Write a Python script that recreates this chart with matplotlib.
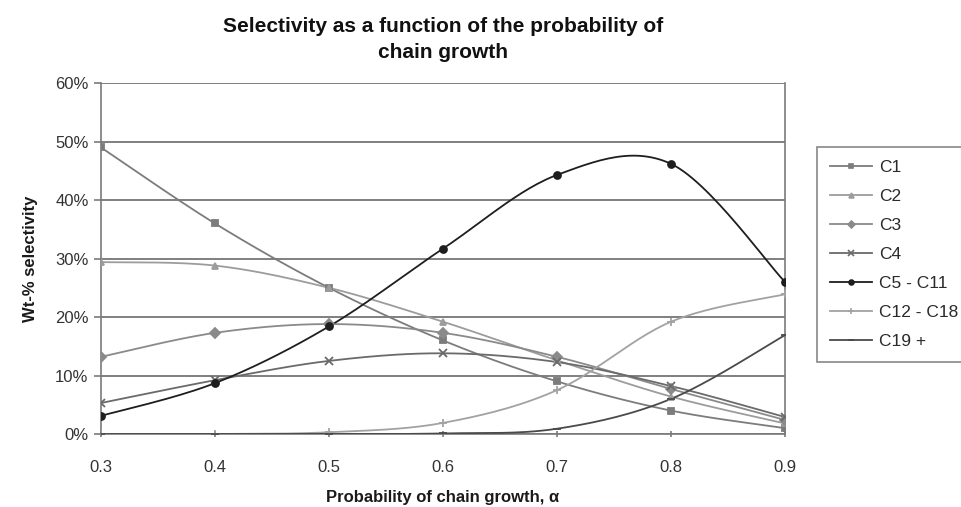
import numpy as np
import matplotlib
matplotlib.use("Agg")
import matplotlib.pyplot as plt
from matplotlib.ticker import FuncFormatter

plt.rcParams['font.family'] = ['Liberation Sans', 'DejaVu Sans']

# data (wt-% selectivity)
alpha = [0.3, 0.4, 0.5, 0.6, 0.7, 0.8, 0.9]
c1 = [49.0, 36.0, 25.0, 16.0, 9.0, 4.0, 1.0]
c2 = [29.4, 28.8, 25.0, 19.2, 12.6, 6.4, 1.8]
c3 = [13.2, 17.3, 18.8, 17.3, 13.2, 7.7, 2.4]
c4 = [5.3, 9.2, 12.5, 13.8, 12.3, 8.2, 2.9]
c5_c11 = [3.1, 8.7, 18.4, 31.7, 44.3, 46.2, 26.0]
c12_c18 = [0.0, 0.0, 0.3, 1.9, 7.5, 19.2, 23.9]
c19_plus = [0.0, 0.0, 0.0, 0.1, 0.9, 6.0, 16.9]

series = [
    ("C1", c1, "s", "#7c7c7c"),
    ("C2", c2, "^", "#9c9c9c"),
    ("C3", c3, "D", "#8a8a8a"),
    ("C4", c4, "x", "#6a6a6a"),
    ("C5 - C11", c5_c11, "o", "#1e1e1e"),
    ("C12 - C18", c12_c18, "+", "#a2a2a2"),
    ("C19 +", c19_plus, "_", "#4a4a4a"),
]


def smooth(x, y, n=30):
    # excel-style smoothed line (catmull-rom bezier)
    x = np.asarray(x, float)
    y = np.asarray(y, float)
    P = np.column_stack([x, y])
    Pe = np.vstack([P[0], P, P[-1]])
    out = []
    t = np.linspace(0, 1, n)[:, None]
    for i in range(len(P) - 1):
        p0, p1, p2, p3 = Pe[i], Pe[i + 1], Pe[i + 2], Pe[i + 3]
        b1 = p1 + (p2 - p0) / 6
        b2 = p2 - (p3 - p1) / 6
        seg = ((1 - t) ** 3) * p1 + 3 * ((1 - t) ** 2) * t * b1 + 3 * (1 - t) * t ** 2 * b2 + t ** 3 * p2
        out.append(seg if i == 0 else seg[1:])
    out = np.vstack(out)
    return out[:, 0], out[:, 1]


fig = plt.figure(figsize=(9.62, 5.07), dpi=100)
ax = fig.add_axes([0.105, 0.144, 0.711, 0.692])

for name, vals, mk, col in series:
    sx, sy = smooth(alpha, vals)
    ax.plot(sx, sy, color=col, lw=1.3, zorder=3)
    ms = 6 if mk in ("+", "_", "x") else 5
    ax.plot(alpha, vals, ls="none", marker=mk, color=col, ms=ms, mew=1.3, zorder=4)
    ax.plot([], [], color=col, lw=1.3, marker=mk, ms=ms - 1.5, mew=1.2, label=name)

ax.set_xlim(0.3, 0.9)
ax.set_ylim(0, 60)
ax.set_xticks(alpha)
ax.set_xticklabels([f"{a:.1f}" for a in alpha])
ax.set_yticks(np.arange(0, 61, 10))
ax.yaxis.set_major_formatter(FuncFormatter(lambda v, p: f"{v:.0f}%"))
ax.grid(axis="y", color="#6a6a6a", lw=1.2)
ax.set_axisbelow(True)
for s in ax.spines.values():
    s.set_color("#7a7a7a")
    s.set_linewidth(1.2)
ax.spines["top"].set_visible(False)
ax.tick_params(axis="both", colors="#7a7a7a", labelcolor="#333333", labelsize=12, length=5, width=1.2)
ax.tick_params(axis="x", direction="inout", pad=16)
ax.tick_params(axis="y", pad=4)

ax.set_xlabel("Probability of chain growth, α", fontsize=12, fontweight="bold", color="#1a1a1a", labelpad=11)
ax.set_ylabel("Wt-% selectivity", fontsize=12, fontweight="bold", color="#1a1a1a", labelpad=12)
ax.set_title("Selectivity as a function of the probability of\nchain growth", fontsize=15,
             fontweight="bold", color="#111111", pad=18, linespacing=1.5)

leg = ax.legend(loc="upper left", bbox_to_anchor=(1.047, 0.818), frameon=True, fancybox=False,
                fontsize=12.5, handlelength=2.4, labelspacing=0.8, borderpad=0.75, handletextpad=0.4,
                borderaxespad=0)
leg.get_frame().set_edgecolor("#6a6a6a")
leg.get_frame().set_linewidth(1.2)
for t in leg.get_texts():
    t.set_color("#2a2a2a")

fig.savefig("out.png", dpi=100)
